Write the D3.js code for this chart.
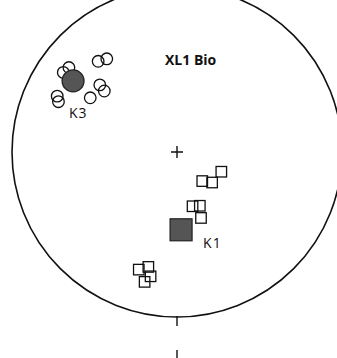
<!DOCTYPE html>
<html>
<head>
<meta charset="utf-8">
<script src="https://cdn.jsdelivr.net/npm/d3@7"></script>
<style>
  body { margin: 0; background: #fff; }
  svg { display: block; }
</style>
</head>
<body>
<div id="chart"></div>
<script>
// K1 axes (squares) and K3 axes (circles), declination / inclination in degrees
const k1Dec = [139, 131, 114, 164, 157, 160, 198, 194, 192, 194];
const k1Inc = [71, 67, 66, 62, 61, 55, 26, 29, 24, 20];
const k3Dec = [308, 305, 319, 323, 311, 310, 302, 295, 293];
const k3Inc = [18, 17, 28, 30, 38, 42, 38, 21, 23];
// mean directions
const meanNames = ['K1', 'K3'];
const meanDec = [177, 304];
const meanInc = [51, 25];
const title = 'XL1 Bio';

const width = 337, height = 358;
const cx = 177, cy = 152, R = 165;

const svg = d3.select('#chart').append('svg')
    .attr('width', width)
    .attr('height', height);

// unit net coordinates -> pixels
const x = d3.scaleLinear().domain([-1, 1]).range([cx - R, cx + R]);
const y = d3.scaleLinear().domain([-1, 1]).range([cy + R, cy - R]);

// Lambert equal-area (lower hemisphere)
function project(dec, inc) {
    const r = Math.SQRT2 * Math.sin((90 - inc) / 2 * Math.PI / 180);
    const a = dec * Math.PI / 180;
    return [x(r * Math.sin(a)), y(r * Math.cos(a))];
}

// primitive circle
svg.append('circle')
    .attr('cx', x(0)).attr('cy', y(0))
    .attr('r', x(1) - x(0))
    .attr('fill', 'none')
    .attr('stroke', '#111')
    .attr('stroke-width', 1.6);

// south tick and the stray tick below it
svg.append('line')
    .attr('x1', x(0)).attr('x2', x(0))
    .attr('y1', y(-1) - 1).attr('y2', y(-1) + 9)
    .attr('stroke', '#111').attr('stroke-width', 1.4);
svg.append('line')
    .attr('x1', x(0)).attr('x2', x(0))
    .attr('y1', y(-1.2)).attr('y2', y(-1.26))
    .attr('stroke', '#111').attr('stroke-width', 1.4);

// centre cross
const c = 6;
svg.append('path')
    .attr('d', `M${x(0) - c},${y(0)}H${x(0) + c}M${x(0)},${y(0) - c}V${y(0) + c}`)
    .attr('stroke', '#111').attr('stroke-width', 1.4);

// title
svg.append('text')
    .attr('x', 165).attr('y', 65)
    .text(title)
    .style('font-family', '"Open Sans", "DejaVu Sans", sans-serif')
    .style('font-weight', 'bold')
    .style('font-size', '14px')
    .style('fill', '#111');

// open squares (K1)
const sq = 10.5;
svg.append('g').selectAll('rect')
    .data(d3.range(k1Dec.length))
    .enter().append('rect')
    .attr('x', i => project(k1Dec[i], k1Inc[i])[0] - sq / 2)
    .attr('y', i => project(k1Dec[i], k1Inc[i])[1] - sq / 2)
    .attr('width', sq).attr('height', sq)
    .attr('fill', 'none')
    .attr('stroke', '#111')
    .attr('stroke-width', 1.3);

// open circles (K3)
svg.append('g').selectAll('circle')
    .data(d3.range(k3Dec.length))
    .enter().append('circle')
    .attr('cx', i => project(k3Dec[i], k3Inc[i])[0])
    .attr('cy', i => project(k3Dec[i], k3Inc[i])[1])
    .attr('r', 5.8)
    .attr('fill', 'none')
    .attr('stroke', '#111')
    .attr('stroke-width', 1.3);

// mean K1 (filled square)
const p1 = project(meanDec[0], meanInc[0]);
svg.append('rect')
    .attr('x', p1[0] - 11).attr('y', p1[1] - 11)
    .attr('width', 22).attr('height', 22)
    .attr('fill', '#555')
    .attr('stroke', '#222')
    .attr('stroke-width', 1.2);

// mean K3 (filled circle)
const p3 = project(meanDec[1], meanInc[1]);
svg.append('circle')
    .attr('cx', p3[0]).attr('cy', p3[1] - 1)
    .attr('r', 11)
    .attr('fill', '#555')
    .attr('stroke', '#222')
    .attr('stroke-width', 1.2);

// labels for the means
const labelPos = [[p1[0] + 22, p1[1] + 18], [p3[0] - 4, p3[1] + 36]];
svg.append('g').selectAll('text')
    .data(meanNames)
    .enter().append('text')
    .attr('x', (d, i) => labelPos[i][0])
    .attr('y', (d, i) => labelPos[i][1])
    .text(d => d)
    .style('font-family', '"Open Sans", "DejaVu Sans", sans-serif')
    .style('font-size', '14px')
    .style('letter-spacing', '1px')
    .style('fill', '#111');
</script>
</body>
</html>
